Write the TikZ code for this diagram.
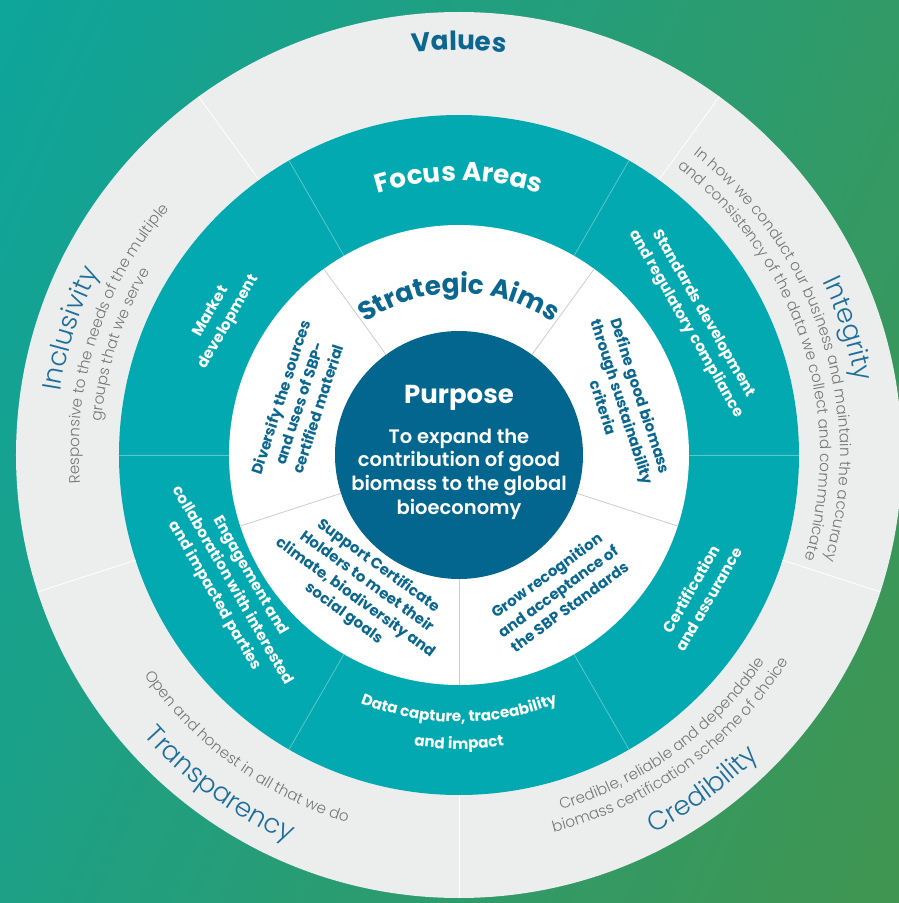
\documentclass[tikz,border=0pt]{standalone}
\usepackage{fontspec}
\setmainfont{Poppins}
\newfontfamily\lightfont{Poppins Light}
\newfontfamily\semifont{Poppins SemiBold}
\usetikzlibrary{positioning}
\usetikzlibrary{decorations.text}

\definecolor{bgteal}{HTML}{00A9B0}
\definecolor{bggreen}{HTML}{4E913C}
\definecolor{ringgray}{HTML}{ECEDED}
\definecolor{focusteal}{HTML}{02A9B0}
\definecolor{purposeblue}{HTML}{02668F}
\definecolor{aimblue}{HTML}{0B6690}
\definecolor{valueblue}{HTML}{1E6E9C}
\definecolor{descgray}{HTML}{777777}
\definecolor{focusline}{HTML}{5CC6C9}
\definecolor{aimline}{HTML}{CDCDCD}

\pgfdeclarehorizontalshading{bgshade}{100bp}{color(0bp)=(bgteal); color(100bp)=(bggreen)}

\newcommand\ringtitle{\bfseries\fontsize{26.3}{30}\selectfont}
\newcommand\valuename{\lightfont\fontsize{26.5}{30}\selectfont}
\newcommand\valuedesc{\lightfont\fontsize{15.2}{17}\selectfont}
\newcommand\focusarc{\bfseries\fontsize{15.2}{17}\selectfont}

\tikzset{
  purposetitle/.style={text=white, font=\bfseries\fontsize{26}{30}\selectfont, inner sep=0},
  purposetext/.style={text=white, font=\semifont\fontsize{19.5}{23.7}\selectfont, align=center, inner sep=0},
  aim/.style={text=aimblue, font=\bfseries\fontsize{15}{19.5}\selectfont, align=center, inner sep=0},
  focus/.style={text=white, font=\bfseries\fontsize{15.2}{20.5}\selectfont, align=center, inner sep=0},
  arctext/.style n args={3}{decorate, decoration={text along path, text align=center, text color=#1, text={|#2|#3}}},
}

\begin{document}
\begin{tikzpicture}[x=1pt, y=1pt]
  \useasboundingbox (-459,-448) rectangle (440,455);
  \shade[shading=bgshade, shading angle=-23] (-459,-448) rectangle (440,455);

  % rings
  \fill[ringgray] (0,0) circle (443);
  \fill[focusteal] (0,0) circle (340);
  \fill[white] (0,0) circle (230);
  \fill[purposeblue] (0,0) circle (124);

  % dividers
  \foreach \a in {-90,-18,54,126,198} {
    \draw[white, line width=0.8pt] (\a:340) -- (\a:443);
    \draw[aimline, line width=0.8pt] (\a:124) -- (\a:230);
  }
  \foreach \a in {0,60,...,300}
    \draw[focusline, line width=0.8pt] (\a:230) -- (\a:340);

  % purpose
  \node[purposetitle] (purpose) at (0,57) {Purpose};
  \node[purposetext] (expand) at (0,-19) {To expand the\\contribution of good\\biomass to the global\\bioeconomy};

  % strategic aims
  \path[arctext={aimblue}{\ringtitle}{Strategic Aims}] (150:162) arc[start angle=150, end angle=30, radius=162];
  \node[aim, rotate=-72] (define) at (18:172) {Define good biomass\\through sustainability\\criteria};
  \node[aim, rotate=36] (grow) at (-54:168) {Grow recognition\\and acceptance of\\the SBP Standards};
  \node[aim, rotate=-36] (support) at (-126:167) {Support Certificate\\Holders to meet their\\climate, biodiversity and\\social goals};
  \node[aim, rotate=72] (diversify) at (162:168) {Diversify the sources\\and uses of SBP-\\certified material};

  % focus areas
  \path[arctext={white}{\ringtitle}{Focus Areas}] (150:274) arc[start angle=150, end angle=30, radius=274];
  \node[focus, rotate=-60] (standards) at (30:272) {Standards development\\and regulatory compliance};
  \node[focus, rotate=60] (certification) at (-30:278) {Certification\\and assurance};
  \path[arctext={white}{\focusarc}{Data capture, traceability}] (-150:267) arc[start angle=-150, end angle=-30, radius=267];
  \path[arctext={white}{\focusarc}{and impact}] (-150:294) arc[start angle=-150, end angle=-30, radius=294];
  \node[focus, rotate=-60] (engagement) at (210:262) {Engagement and\\collaboration with interested\\and impacted parties};
  \node[focus, rotate=60] (market) at (150:276) {Market\\development};

  % values
  \path[arctext={aimblue}{\ringtitle}{Values}] (150:405) arc[start angle=150, end angle=30, radius=405];
  \path[arctext={valueblue}{\valuename}{Integrity}] (78:403) arc[start angle=78, end angle=-42, radius=403];
  \path[arctext={descgray}{\valuedesc}{In how we conduct our business and maintain the accuracy}] (78:381) arc[start angle=78, end angle=-42, radius=381];
  \path[arctext={descgray}{\valuedesc}{and consistency of the data we collect and communicate}] (78:361) arc[start angle=78, end angle=-42, radius=361];
  \path[arctext={descgray}{\valuedesc}{Credible, reliable and dependable}] (-114:369) arc[start angle=-114, end angle=6, radius=369];
  \path[arctext={descgray}{\valuedesc}{biomass certification scheme of choice}] (-114:389) arc[start angle=-114, end angle=6, radius=389];
  \path[arctext={valueblue}{\valuename}{Credibility}] (-114:425) arc[start angle=-114, end angle=6, radius=425];
  \path[arctext={descgray}{\valuedesc}{Open and honest in all that we do}] (-186:384) arc[start angle=-186, end angle=-66, radius=384];
  \path[arctext={valueblue}{\valuename}{Transparency}] (-186:422) arc[start angle=-186, end angle=-66, radius=422];
  \path[arctext={valueblue}{\valuename}{Inclusivity}] (222:404) arc[start angle=222, end angle=102, radius=404];
  \path[arctext={descgray}{\valuedesc}{Responsive to the needs of the multiple}] (222:380) arc[start angle=222, end angle=102, radius=380];
  \path[arctext={descgray}{\valuedesc}{groups that we serve}] (222:359) arc[start angle=222, end angle=102, radius=359];
\end{tikzpicture}
\end{document}
